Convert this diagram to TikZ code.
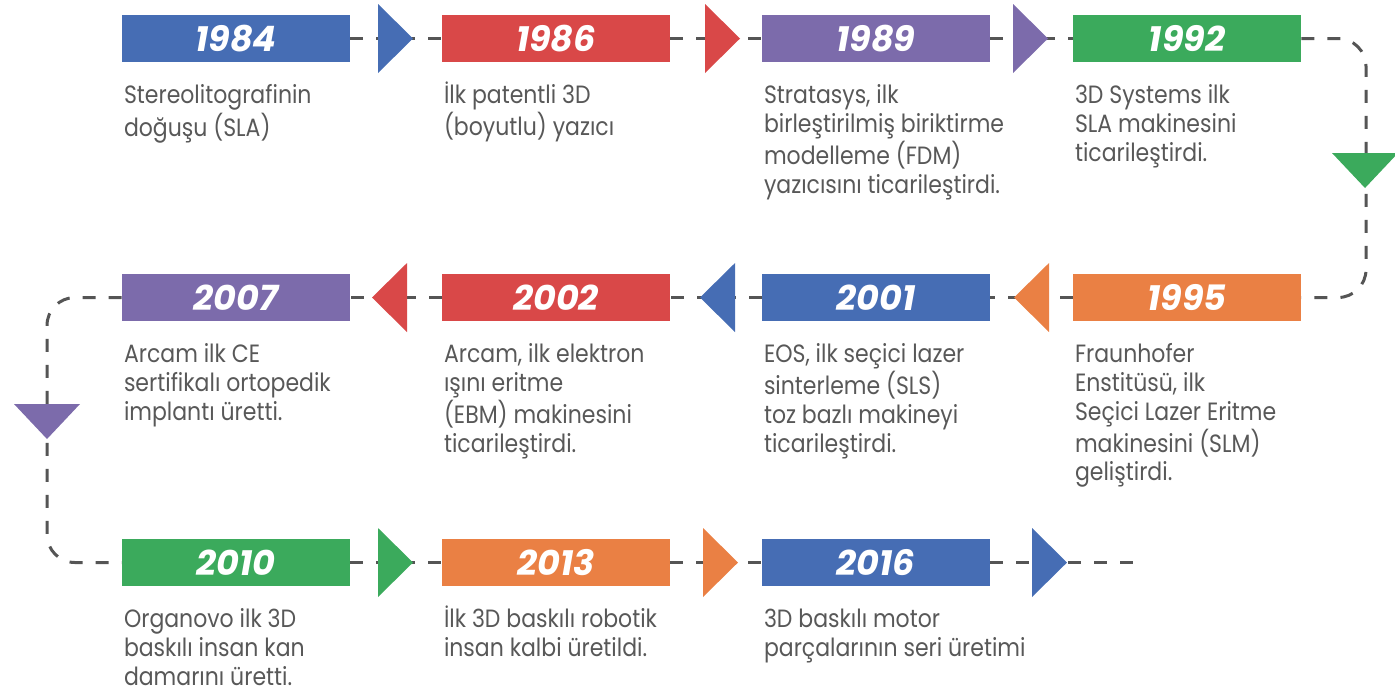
\documentclass[tikz,border=0pt]{standalone}
\usepackage{fontspec}
\setmainfont{Poppins}
\newfontfamily\descfont{Poppins}[FakeStretch=0.88]
\usetikzlibrary{positioning}
\definecolor{tlblue}{RGB}{70,109,180}
\definecolor{tlred}{RGB}{217,72,72}
\definecolor{tlpurple}{RGB}{124,107,171}
\definecolor{tlgreen}{RGB}{59,170,92}
\definecolor{tlorange}{RGB}{234,128,68}
\definecolor{tlgray}{RGB}{88,88,88}
\definecolor{tlline}{RGB}{85,85,85}

\begin{document}
\begin{tikzpicture}[
    x=0.5pt, y=-0.5pt,
    year/.style={minimum width=114pt, minimum height=23.5pt, inner sep=0pt,
      text=white, font=\fontsize{17.5}{20}\selectfont\bfseries\itshape},
    desc/.style={inner sep=0pt, align=left, text=tlgray,
      font=\descfont\fontsize{12.5}{14.35}\selectfont},
    dashline/.style={tlline, line width=1.5pt, dash pattern=on 6.5pt off 6.5pt},
    triright/.pic={\fill (0,-34.5) -- (35,0) -- (0,34.5) -- cycle;},
    trileft/.pic={\fill (0,-34.5) -- (-35,0) -- (0,34.5) -- cycle;},
    tridown/.pic={\fill (-33,0) -- (0,35) -- (33,0) -- cycle;}
  ]
    \useasboundingbox (0,0) rectangle (1395,693);

    \node[year, fill=tlblue] (y1984) at (236,38.5) {1984};
    \node[year, fill=tlred] (y1986) at (556,38.5) {1986};
    \node[year, fill=tlpurple] (y1989) at (876,38.5) {1989};
    \node[year, fill=tlgreen] (y1992) at (1187,38.5) {1992};
    \node[year, fill=tlorange] (y1995) at (1187,297.5) {1995};
    \node[year, fill=tlblue] (y2001) at (876,297.5) {2001};
    \node[year, fill=tlred] (y2002) at (556,297.5) {2002};
    \node[year, fill=tlpurple] (y2007) at (236,297.5) {2007};
    \node[year, fill=tlgreen] (y2010) at (236,562.5) {2010};
    \node[year, fill=tlorange] (y2013) at (556,562.5) {2013};
    \node[year, fill=tlblue] (y2016) at (876,562.5) {2016};

    \node[desc, below right=11pt and 1pt of y1984.south west] (d1984)
      {Stereolitografinin\\doğuşu (SLA)};
    \node[desc, below right=11pt and 1pt of y1986.south west] (d1986)
      {\smash{İ}lk patentli 3D\\(boyutlu) yazıcı};
    \node[desc, below right=11pt and 1pt of y1989.south west] (d1989)
      {Stratasys, ilk\\birleştirilmiş biriktirme\\modelleme (FDM)\\yazıcısını ticarileştirdi.};
    \node[desc, below right=11pt and 1pt of y1992.south west] (d1992)
      {3D Systems ilk\\SLA makinesini\\ticarileştirdi.};
    \node[desc, below right=11pt and 1pt of y1995.south west] (d1995)
      {Fraunhofer\\Enstitüsü, ilk\\Seçici Lazer Eritme\\makinesini (SLM)\\geliştirdi.};
    \node[desc, below right=11pt and 1pt of y2001.south west] (d2001)
      {EOS, ilk seçici lazer\\sinterleme (SLS)\\toz bazlı makineyi\\ticarileştirdi.};
    \node[desc, below right=11pt and 1pt of y2002.south west] (d2002)
      {Arcam, ilk elektron\\ışını eritme\\(EBM) makinesini\\ticarileştirdi.};
    \node[desc, below right=11pt and 1pt of y2007.south west] (d2007)
      {Arcam ilk CE\\sertifikalı ortopedik\\implantı üretti.};
    \node[desc, below right=11pt and 1pt of y2010.south west] (d2010)
      {Organovo ilk 3D\\baskılı insan kan\\damarını üretti.};
    \node[desc, below right=11pt and 1pt of y2013.south west] (d2013)
      {\smash{İ}lk 3D baskılı robotik\\insan kalbi üretildi.};
    \node[desc, below right=11pt and 1pt of y2016.south west] (d2016)
      {3D baskılı motor\\parçalarının seri üretimi};

    \coordinate (rtop) at (1366,38.5);
    \coordinate (rbot) at (1366,297.5);
    \coordinate (ltop) at (47,297.5);
    \coordinate (lbot) at (47,562.5);
    \coordinate (tail) at (1140,562.5);

    \draw[dashline] (y1984.east) -- (y1986.west);
    \draw[dashline] (y1986.east) -- (y1989.west);
    \draw[dashline] (y1989.east) -- (y1992.west);
    \draw[dashline, rounded corners=14pt] (y1992.east) -- (rtop) -- (rbot) -- (y1995.east);
    \draw[dashline] (y1995.west) -- (y2001.east);
    \draw[dashline] (y2001.west) -- (y2002.east);
    \draw[dashline] (y2002.west) -- (y2007.east);
    \draw[dashline, rounded corners=14pt] (y2007.west) -- (ltop) -- (lbot) -- (y2010.west);
    \draw[dashline] (y2010.east) -- (y2013.west);
    \draw[dashline] (y2013.east) -- (y2016.west);
    \draw[dashline] (y2016.east) -- (tail);

    \pic[fill=tlblue] at (378,38.5) {triright};
    \pic[fill=tlred] at (705,38.5) {triright};
    \pic[fill=tlpurple] at (1013,38.5) {triright};
    \pic[fill=tlgreen] at (1365,153) {tridown};
    \pic[fill=tlorange] at (1049,297.5) {trileft};
    \pic[fill=tlblue] at (735,297.5) {trileft};
    \pic[fill=tlred] at (407,297.5) {trileft};
    \pic[fill=tlpurple] at (47,404) {tridown};
    \pic[fill=tlgreen] at (378,562.5) {triright};
    \pic[fill=tlorange] at (703,562.5) {triright};
    \pic[fill=tlblue] at (1032,562.5) {triright};
  \end{tikzpicture}
\end{document}
